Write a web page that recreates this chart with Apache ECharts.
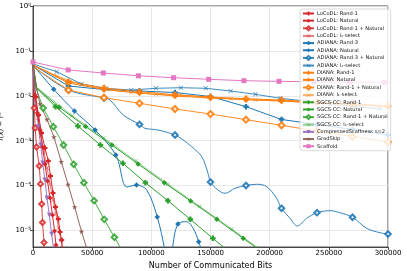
<!DOCTYPE html>
<html><head><meta charset="utf-8">
<script src="https://cdn.jsdelivr.net/npm/echarts@6/dist/echarts.min.js"></script>
<style>html,body{margin:0;padding:0;background:#fff}#c{width:407px;height:271px}</style>
</head><body><div id="c"></div>
<script>
// ---------- data ----------
const xTicks = [0, 50000, 100000, 150000, 200000, 250000, 300000];

// LoCoDL
const locodlRand1X = [0, 2110, 4650, 7180, 10140, 12930, 14790, 16900, 19010, 21380, 22820, 24250, 24930];
const locodlRand1Y = [0.0485, 0.0094, 0.00374, 0.00149, 0.000688, 0.000353, 0.000164, 6.84e-5, 3.34e-5, 1.80e-5, 9.26e-6, 6.14e-6, 3.68e-6];
const locodlRand1M = [1,2,3,4,5,6,7,8,9,10,11];
const locodlNatX = [0, 1690, 3630, 5915, 8030, 10140, 12250, 14370, 16480, 18170, 19440, 20280];
const locodlNatY = [0.0485, 0.01042, 0.00414, 0.00173, 0.000724, 0.000303, 0.000127, 5.3e-5, 2.21e-5, 9.75e-6, 4.75e-6, 3.32e-6];
const locodlNatM = [1,2,3,4,5,6,7,8,9,10];
const locodlRNX = [0, 500, 1100, 1860, 2960, 5320, 6340, 7350, 8030, 9300, 10140];
const locodlRNY = [0.0485, 0.01346, 0.00535, 0.00192, 0.000724, 0.000273, 0.000109, 3.89e-5, 1.51e-5, 5.4e-6, 2.85e-6];
const locodlRNM = [2,3,4,5,6,7,8,9];
const locodlL1X = [0, 2110, 4230, 6760, 9300, 11830, 14370, 16900, 19440, 21550, 23660, 25350];
const locodlL1Y = [0.0485, 0.00806, 0.00321, 0.00127, 0.00056, 0.000247, 0.000109, 4.78e-5, 2.33e-5, 1.14e-5, 6.14e-6, 3.32e-6];
const locodlL1M = [1,2,3,4,5,6,7,8,9,10];

// ADIANA
const adianaRand3X = [0, 30000, 60000, 90000, 120000, 150000, 180000, 210000, 240000, 270000, 300000];
const adianaRand3Y = [0.0485, 0.01652, 0.0138, 0.0128, 0.01184, 0.00964, 0.00572, 0.00297, 0.0023, 0.00178, 0.00134];
const adianaRand3M = [1,2,3,4,5,6,7,8,9,10];
const adianaNatX = [0, 17500, 35000, 52500, 70000, 79400, 87500, 96100, 105000, 111500, 114500, 117500, 122500, 129900, 135200, 140000, 145300];
const adianaNatY = [0.0485, 0.01396, 0.00459, 0.00173, 0.00048, 9.31e-5, 1.03e-4, 7.98e-5, 2.0e-5, 3.68e-6, 1.46e-6, 3.68e-6, 1.40e-5, 1.57e-5, 1.14e-5, 5.63e-6, 1.99e-6];
const adianaNatM = [1,2,3,4,6,8,12,15];
const adianaRNX = [0, 30000, 60000, 65100, 76300, 90000, 94600, 105600, 120000, 126800, 134100, 142600, 147900, 150000, 156300, 162300, 170700, 180000, 189000, 197500, 205900, 210000, 217200, 223300, 231300, 240000, 251000, 259400, 270000, 282000, 293200, 300000];
const adianaRNY = [0.0461, 0.01346, 0.00893, 0.00806, 0.00374, 0.0023, 0.00189, 0.00173, 0.00134, 0.00104, 0.000735, 0.00044, 0.000188, 0.00012, 7.98e-5, 6.74e-5, 8.71e-5, 1.005e-4, 1.07e-4, 9.46e-5, 5.21e-5, 3.12e-5, 1.87e-5, 1.26e-5, 1.87e-5, 2.49e-5, 2.76e-5, 2.49e-5, 1.97e-5, 1.12e-5, 8.93e-6, 8.35e-6];
const adianaRNM = [1,2,5,8,13,17,21,25,28,31];
const adianaL1X = [0, 20000, 41000, 62000, 83000, 104000, 125000, 146000, 167000, 188000, 209000, 230000, 251000, 272000, 293000];
const adianaL1Y = [0.0511, 0.0344, 0.0183, 0.01454, 0.01346, 0.01469, 0.01514, 0.01469, 0.0128, 0.0108, 0.00879, 0.00766, 0.00657, 0.00578, 0.00508];
const adianaL1M = [1,2,3,4,5,6,7,8,9,10,11,12,13,14];

// DIANA
const dianaRand1X = [0, 30000, 60000, 90000, 120000, 150000, 180000, 210000, 240000, 270000, 300000];
const dianaRand1Y = [0.0485, 0.0206, 0.0149, 0.01234, 0.01057, 0.0094, 0.0086, 0.00806, 0.00728, 0.00657, 0.00593];
const dianaRand1M = [1,2,3,4,5,6,7,8,9,10];
const dianaNatX = [0, 30000, 60000, 90000, 120000, 150000, 180000, 210000, 240000, 270000, 300000];
const dianaNatY = [0.0485, 0.0193, 0.0138, 0.01154, 0.0099, 0.00893, 0.00819, 0.00766, 0.00691, 0.00624, 0.00563];
const dianaNatM = [1,2,3,4,5,6,7,8,9,10];
const dianaRNX = [0, 30000, 60000, 90000, 120000, 150000, 180000, 210000, 240000, 270000, 300000];
const dianaRNY = [0.0438, 0.01346, 0.00907, 0.00681, 0.00508, 0.00393, 0.00294, 0.0022, 0.00164, 0.00124, 0.000935];
const dianaRNM = [1,2,3,4,5,6,7,8,9,10];
const dianaL1X = [0, 20000, 41000, 62000, 83000, 104000, 125000, 146000, 167000, 188000, 209000, 230000, 251000, 272000, 293000];
const dianaL1Y = [0.0485, 0.0276, 0.0179, 0.0138, 0.01184, 0.0108, 0.01026, 0.0094, 0.0086, 0.00806, 0.00766, 0.0072, 0.00681, 0.0064, 0.00608];
const dianaL1M = [1,2,3,4,5,6,7,8,9,10,11,12,13,14];

// SGCS-CC
const sgcsRand1X = [0, 3000, 19000, 38000, 57000, 76000, 95000, 114000, 133000, 152000, 171000];
const sgcsRand1Y = [0.05, 0.0149, 0.00572, 0.00212, 0.000802, 0.000314, 0.000116, 4.61e-5, 1.77e-5, 6.7e-6, 2.57e-6];
const sgcsRand1M = [2,3,4,5,6,7,8,9];
const sgcsNatX = [0, 3000, 22200, 44400, 66600, 88800, 111000, 133200, 155400, 177600, 199800];
const sgcsNatY = [0.05, 0.0149, 0.00555, 0.00207, 0.000802, 0.000303, 0.000116, 4.54e-5, 1.77e-5, 6.7e-6, 2.57e-6];
const sgcsNatM = [2,3,4,5,6,7,8,9];
const sgcsRNX = [0, 2000, 8600, 17200, 25800, 34400, 43000, 51600, 60200, 68800, 77400];
const sgcsRNY = [0.05, 0.016, 0.00535, 0.00205, 0.000802, 0.000298, 0.000116, 4.61e-5, 1.77e-5, 7.06e-6, 2.85e-6];
const sgcsRNM = [2,3,4,5,6,7,8,9];
const sgcsL1X = [0, 2500, 33000, 60000, 87000, 114000, 141000, 168000, 195000];
const sgcsL1Y = [0.05, 0.016, 0.00364, 0.00115, 0.000353, 0.000109, 3.43e-5, 1.08e-5, 3.32e-6];
const sgcsL1M = [2,3,4,5,6,7];

// others
const cscaffX = [0, 1700, 3400, 4500, 6500, 8200, 10100, 11800, 13800, 15800, 17300];
const cscaffY = [0.05, 0.00806, 0.00374, 0.00205, 0.000802, 0.000319, 0.000133, 5.3e-5, 2.21e-5, 8.23e-6, 4.08e-6];
const cscaffM = [3,4,5,6,7,8,9];
const gradskipX = [0, 2500, 5900, 11800, 17700, 23900, 29600, 35200, 41000, 45600];
const gradskipY = [0.0538, 0.0174, 0.00657, 0.00297, 0.00121, 0.00034, 0.000106, 3.34e-5, 9.5e-6, 3.87e-6];
const gradskipM = [2,3,4,5,6,7,8];
const scaffoldX = [0, 29700, 59400, 89100, 118800, 148500, 178200, 207900, 237600, 267300, 297000];
const scaffoldY = [0.0566, 0.0376, 0.0322, 0.0279, 0.0253, 0.0233, 0.0217, 0.021, 0.0205, 0.0202, 0.02];
const scaffoldM = [0,1,2,3,4,5,6,7,8,9,10];

// ---------- styles ----------
const RED='#d62728', BLUE='#1f77b4', ORANGE='#ff7f0e', GREEN='#2ca02c', PURPLE='#9467bd', BROWN='#8c564b', PINK='#e377c2';
const SYM_P = 'path://M3,0H7V3H10V7H7V10H3V7H0V3H3Z';
const SYM_D = 'diamond';
const SYM_OD = 'emptyDiamond';
const SYM_X = 'path://M1,0L5,4L9,0L10,1L6,5L10,9L9,10L5,6L1,10L0,9L4,5L0,1Z';
const SYM_V = 'path://M0,0L10,0L5,9Z';
const SYM_STAR = 'path://M5,0L6.2,3.6L10,3.6L6.9,5.9L8.1,9.5L5,7.3L1.9,9.5L3.1,5.9L0,3.6L3.8,3.6Z';

function pts(xs, ys, marks){
  return xs.map((x,i)=> marks.indexOf(i) >= 0 ? [x, ys[i]] : {value:[x, ys[i]], symbol:'none'});
}
function mk(name, xs, ys, marks, color, symbol, size, alpha, smooth){
  return {
    name, type:'line', data: pts(xs, ys, marks), symbol, symbolSize: size,
    showAllSymbol: true, smooth: smooth || false, clip: true, silent: true,
    lineStyle: {color, width: 1, opacity: alpha},
    itemStyle: {color, borderColor: color, borderWidth: symbol===SYM_OD ? 0.8 : 0, opacity: alpha},
    emphasis: {disabled: true}
  };
}
const L1 = 'l\u2081-select';
const series = [
  mk('LoCoDL: Rand-1', locodlRand1X, locodlRand1Y, locodlRand1M, RED, SYM_P, 5, 1),
  mk('LoCoDL: Natural', locodlNatX, locodlNatY, locodlNatM, RED, SYM_D, 5, 1),
  mk('LoCoDL: Rand-1 + Natural', locodlRNX, locodlRNY, locodlRNM, RED, SYM_OD, 5, 0.85),
  mk('LoCoDL: ' + L1, locodlL1X, locodlL1Y, locodlL1M, RED, SYM_X, 4.5, 0.6),
  mk('ADIANA: Rand-3', adianaRand3X, adianaRand3Y, adianaRand3M, BLUE, SYM_P, 5.5, 1),
  mk('ADIANA: Natural', adianaNatX, adianaNatY, adianaNatM, BLUE, SYM_D, 5.5, 1, 0.35),
  mk('ADIANA: Rand-3 + Natural', adianaRNX, adianaRNY, adianaRNM, BLUE, SYM_OD, 5.5, 0.9, 0.35),
  mk('ADIANA: ' + L1, adianaL1X, adianaL1Y, adianaL1M, BLUE, SYM_X, 4.5, 0.85),
  mk('DIANA: Rand-1', dianaRand1X, dianaRand1Y, dianaRand1M, ORANGE, SYM_P, 6.5, 1),
  mk('DIANA: Natural', dianaNatX, dianaNatY, dianaNatM, ORANGE, SYM_D, 6.5, 1),
  mk('DIANA: Rand-1 + Natural', dianaRNX, dianaRNY, dianaRNM, ORANGE, SYM_OD, 6, 0.9),
  mk('DIANA: ' + L1, dianaL1X, dianaL1Y, dianaL1M, ORANGE, SYM_X, 4.5, 0.6),
  mk('SGCS-CC: Rand-1', sgcsRand1X, sgcsRand1Y, sgcsRand1M, GREEN, SYM_P, 5.5, 1),
  mk('SGCS-CC: Natural', sgcsNatX, sgcsNatY, sgcsNatM, GREEN, SYM_D, 5.5, 1),
  mk('SGCS-CC: Rand-1 + Natural', sgcsRNX, sgcsRNY, sgcsRNM, GREEN, SYM_OD, 5.5, 0.85),
  mk('SGCS-CC: ' + L1, sgcsL1X, sgcsL1Y, sgcsL1M, GREEN, SYM_X, 4.5, 0.5),
  mk('CompressedScaffnew: s=2', cscaffX, cscaffY, cscaffM, PURPLE, SYM_V, 5, 0.9),
  mk('GradSkip', gradskipX, gradskipY, gradskipM, BROWN, SYM_STAR, 5.5, 0.9),
  mk('Scaffold', scaffoldX, scaffoldY, scaffoldM, PINK, 'rect', 5, 1)
];

const SUP = {'0':'\u2070','1':'\u00b9','2':'\u00b2','3':'\u00b3','4':'\u2074','5':'\u2075','6':'\u2076','7':'\u2077','8':'\u2078','9':'\u2079','-':'\u207b'};
function supStr(n){ return String(n).split('').map(c => SUP[c] || c).join(''); }

const chart = echarts.init(document.getElementById('c'), null, {renderer:'canvas'});
const FONT = 'DejaVu Sans';
chart.setOption({
  animation: false,
  backgroundColor: '#fff',
  grid: {left: 33, right: 19, top: 6, bottom: 24, show: true, borderColor: '#222', borderWidth: 0.8,
         backgroundColor: 'transparent', containLabel: false, outerBoundsMode: 'none'},
  xAxis: {
    type: 'value', min: xTicks[0], max: xTicks[xTicks.length-1], interval: xTicks[1]-xTicks[0],
    axisLine: {show: true, onZero: false, lineStyle: {color: '#222', width: 0.8}},
    axisTick: {show: true, length: 3, lineStyle: {color: '#222', width: 0.8}},
    axisLabel: {fontSize: 7, color: '#000', margin: 3, fontFamily: FONT, formatter: v => String(v)},
    splitLine: {show: true, lineStyle: {color: '#e2e2e2', width: 0.8}},
    name: 'Number of Communicated Bits', nameLocation: 'middle', nameGap: 14,
    nameTextStyle: {fontSize: 8, color: '#000', fontFamily: FONT}
  },
  yAxis: {
    type: 'log', logBase: 10, min: 4.29e-6, max: 1,
    axisLine: {show: true, lineStyle: {color: '#222', width: 0.8}},
    axisTick: {show: true, length: 3, lineStyle: {color: '#222', width: 0.8}},
    axisLabel: {
      showMinLabel: false, margin: 2, color: '#000', fontFamily: FONT, fontSize: 7,
      formatter: v => '10' + supStr(Math.round(Math.log10(v)))
    },
    splitLine: {show: true, lineStyle: {color: '#e2e2e2', width: 0.8}},
    name: 'f(x) \u2212 f*', nameLocation: 'middle', nameGap: 20,
    nameTextStyle: {fontSize: 7, color: '#000', fontFamily: FONT, fontStyle: 'italic'}
  },
  legend: {
    orient: 'vertical', left: 300, top: 9, itemWidth: 11, itemHeight: 5, itemGap: 2.15,
    padding: [2, 3, 2, 2], backgroundColor: 'rgba(255,255,255,0.8)', borderColor: '#d0d0d0', borderWidth: 0.8, borderRadius: 2,
    textStyle: {fontSize: 5.1, lineHeight: 5, color: '#111', fontFamily: FONT, padding: [0,0,0,-2]},
    data: series.map(s => s.name), selectedMode: false
  },
  series
});
</script></body></html>
